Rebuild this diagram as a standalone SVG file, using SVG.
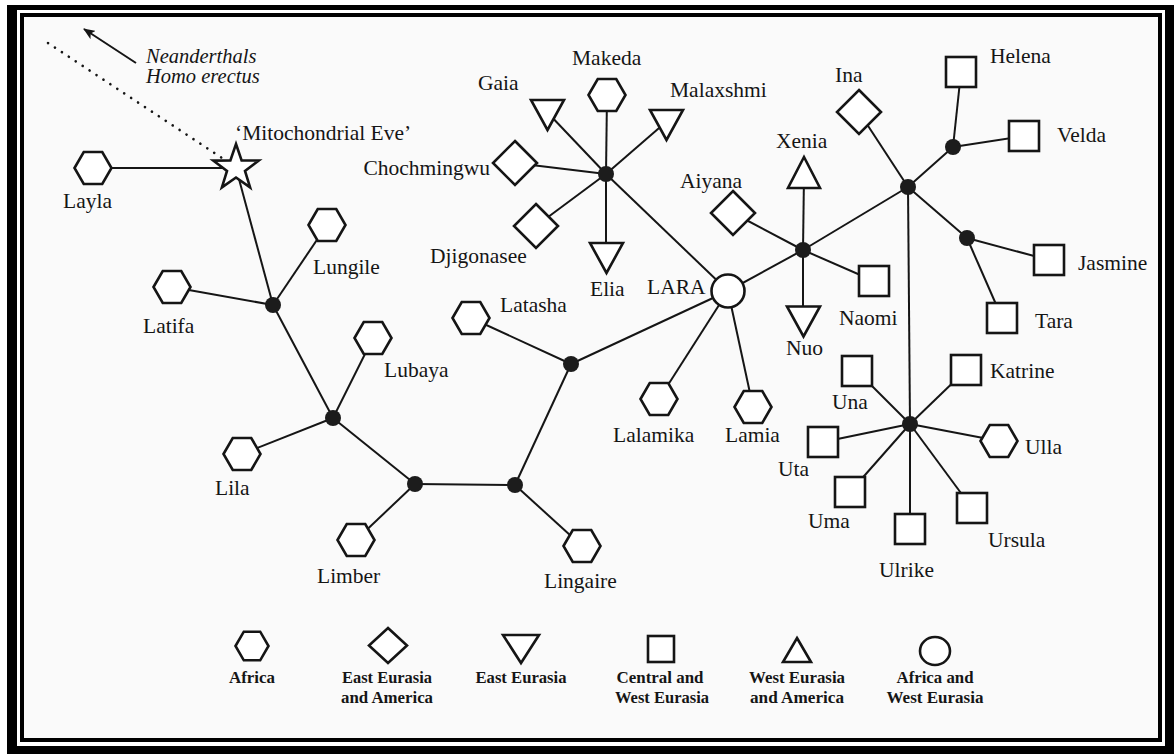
<svg xmlns="http://www.w3.org/2000/svg" width="1174" height="754" viewBox="0 0 1174 754">
<style>
.lbl{font-family:"Liberation Serif","Times New Roman",serif;font-size:21.5px;fill:#151515}
.it{font-family:"Liberation Serif","Times New Roman",serif;font-size:20.5px;font-style:italic;fill:#151515}
.lg{font-family:"Liberation Serif","Times New Roman",serif;font-size:16px;font-weight:bold;fill:#151515;text-anchor:middle}
.sh{fill:#fff;stroke:#151515;stroke-width:2.6;stroke-linejoin:miter}
.ln{stroke:#151515;stroke-width:2;fill:none}
.hub{fill:#1c1c1c}
</style>
<defs>
<polygon id="hex" points="-18.5,0 -9.25,-16 9.25,-16 18.5,0 9.25,16 -9.25,16"/>
<polygon id="dia" points="0,-22 22,0 0,22 -22,0"/>
<rect id="sq" x="-15" y="-15" width="30" height="30"/>
<polygon id="tdn" points="-16.5,-15 16.5,-15 0,15"/>
<polygon id="tup" points="0,-15.5 16,15.5 -16,15.5"/>
<marker id="ah" viewBox="0 0 12 10" refX="11" refY="5" markerWidth="12" markerHeight="10" markerUnits="userSpaceOnUse" orient="auto">
<path d="M0,0 L12,5 L0,10 L3,5 Z" fill="#151515"/>
</marker>
</defs>
<!-- frame -->
<rect x="7" y="5" width="1167" height="749" fill="#000"/>
<rect x="17" y="10" width="1148" height="736" fill="#fff"/>
<rect x="20" y="13" width="1142" height="729" fill="#000"/>
<rect x="24" y="17" width="1134" height="721" fill="#fafafa"/>

<g id="connectors">
<line class="ln" x1="136" y1="63" x2="84" y2="29" marker-end="url(#ah)"/>
<line x1="48" y1="43" x2="222" y2="158" stroke="#151515" stroke-width="2.6" stroke-linecap="round" stroke-dasharray="0.1 8.2"/>
<line class="ln" x1="93" y1="168" x2="236" y2="168"/>
<line class="ln" x1="236" y1="168" x2="273" y2="305"/>
<line class="ln" x1="273" y1="305" x2="172" y2="287"/>
<line class="ln" x1="273" y1="305" x2="327" y2="225"/>
<line class="ln" x1="273" y1="305" x2="333" y2="418"/>
<line class="ln" x1="333" y1="418" x2="373" y2="338"/>
<line class="ln" x1="333" y1="418" x2="242" y2="454"/>
<line class="ln" x1="333" y1="418" x2="415" y2="484"/>
<line class="ln" x1="415" y1="484" x2="356" y2="540"/>
<line class="ln" x1="415" y1="484" x2="515" y2="485"/>
<line class="ln" x1="515" y1="485" x2="582" y2="546"/>
<line class="ln" x1="515" y1="485" x2="571" y2="364"/>
<line class="ln" x1="571" y1="364" x2="471" y2="318"/>
<line class="ln" x1="571" y1="364" x2="728" y2="291"/>
<line class="ln" x1="728" y1="291" x2="659" y2="399"/>
<line class="ln" x1="728" y1="291" x2="753" y2="407"/>
<line class="ln" x1="728" y1="291" x2="606" y2="174"/>
<line class="ln" x1="728" y1="291" x2="803" y2="250"/>
<line class="ln" x1="606" y1="174" x2="607" y2="95"/>
<line class="ln" x1="606" y1="174" x2="547" y2="112"/>
<line class="ln" x1="606" y1="174" x2="666" y2="122"/>
<line class="ln" x1="606" y1="174" x2="515" y2="163"/>
<line class="ln" x1="606" y1="174" x2="536" y2="226"/>
<line class="ln" x1="606" y1="174" x2="606" y2="258"/>
<line class="ln" x1="803" y1="250" x2="733" y2="213"/>
<line class="ln" x1="803" y1="250" x2="804" y2="175"/>
<line class="ln" x1="803" y1="250" x2="874" y2="281"/>
<line class="ln" x1="803" y1="250" x2="803" y2="320"/>
<line class="ln" x1="803" y1="250" x2="908" y2="187"/>
<line class="ln" x1="908" y1="187" x2="859" y2="112"/>
<line class="ln" x1="908" y1="187" x2="953" y2="147"/>
<line class="ln" x1="908" y1="187" x2="967" y2="238"/>
<line class="ln" x1="908" y1="187" x2="910" y2="424"/>
<line class="ln" x1="953" y1="147" x2="961" y2="72"/>
<line class="ln" x1="953" y1="147" x2="1024" y2="136"/>
<line class="ln" x1="967" y1="238" x2="1049" y2="260"/>
<line class="ln" x1="967" y1="238" x2="1002" y2="318"/>
<line class="ln" x1="910" y1="424" x2="857" y2="371"/>
<line class="ln" x1="910" y1="424" x2="966" y2="370"/>
<line class="ln" x1="910" y1="424" x2="823" y2="442"/>
<line class="ln" x1="910" y1="424" x2="999" y2="441"/>
<line class="ln" x1="910" y1="424" x2="850" y2="492"/>
<line class="ln" x1="910" y1="424" x2="910" y2="529"/>
<line class="ln" x1="910" y1="424" x2="972" y2="508"/>
</g>

<g id="hubs">
<circle class="hub" cx="273" cy="305" r="8"/>
<circle class="hub" cx="333" cy="418" r="8"/>
<circle class="hub" cx="415" cy="484" r="8"/>
<circle class="hub" cx="515" cy="485" r="8"/>
<circle class="hub" cx="571" cy="364" r="8"/>
<circle class="hub" cx="606" cy="174" r="8"/>
<circle class="hub" cx="803" cy="250" r="8"/>
<circle class="hub" cx="908" cy="187" r="8"/>
<circle class="hub" cx="953" cy="147" r="8"/>
<circle class="hub" cx="967" cy="238" r="8"/>
<circle class="hub" cx="910" cy="424" r="8"/>
</g>

<g id="neanderthals"><text class="it" x="146" y="63">Neanderthals</text><text class="it" x="146" y="83">Homo erectus</text></g>
<g id="eve"><polygon class="sh" transform="translate(236,168)" points="0,-24 5.6,-7.6 22.8,-7.4 9,3 14.1,19.4 0,9.5 -14.1,19.4 -9,3 -22.8,-7.4 -5.6,-7.6"/><text class="lbl" x="235" y="140">‘Mitochondrial Eve’</text></g>
<g id="layla"><use href="#hex" class="sh" x="93" y="168"/><text class="lbl" x="63" y="208">Layla</text></g>
<g id="lungile"><use href="#hex" class="sh" x="327" y="225"/><text class="lbl" x="313" y="274">Lungile</text></g>
<g id="latifa"><use href="#hex" class="sh" x="172" y="287"/><text class="lbl" x="143" y="333">Latifa</text></g>
<g id="lubaya"><use href="#hex" class="sh" x="373" y="338"/><text class="lbl" x="384" y="377">Lubaya</text></g>
<g id="lila"><use href="#hex" class="sh" x="242" y="454"/><text class="lbl" x="215" y="495">Lila</text></g>
<g id="limber"><use href="#hex" class="sh" x="356" y="540"/><text class="lbl" x="317" y="583">Limber</text></g>
<g id="lingaire"><use href="#hex" class="sh" x="582" y="546"/><text class="lbl" x="544" y="588">Lingaire</text></g>
<g id="latasha"><use href="#hex" class="sh" x="471" y="318"/><text class="lbl" x="500" y="312">Latasha</text></g>
<g id="lara"><circle class="sh" cx="728" cy="291" r="16.5"/><text class="lbl" x="647" y="294">LARA</text></g>
<g id="lalamika"><use href="#hex" class="sh" x="659" y="399"/><text class="lbl" x="613" y="442">Lalamika</text></g>
<g id="lamia"><use href="#hex" class="sh" x="753" y="407"/><text class="lbl" x="725" y="442">Lamia</text></g>
<g id="makeda"><use href="#hex" class="sh" x="607" y="95"/><text class="lbl" x="572" y="65">Makeda</text></g>
<g id="gaia"><use href="#tdn" class="sh" x="547.5" y="115"/><text class="lbl" x="478" y="90">Gaia</text></g>
<g id="malaxshmi"><use href="#tdn" class="sh" x="666.5" y="125"/><text class="lbl" x="670" y="97">Malaxshmi</text></g>
<g id="chochmingwu"><use href="#dia" class="sh" x="515" y="163"/><text class="lbl" x="490" y="175" text-anchor="end">Chochmingwu</text></g>
<g id="djigonasee"><use href="#dia" class="sh" x="536" y="226"/><text class="lbl" x="430" y="263">Djigonasee</text></g>
<g id="elia"><use href="#tdn" class="sh" x="606.5" y="258"/><text class="lbl" x="590" y="296">Elia</text></g>
<g id="aiyana"><use href="#dia" class="sh" x="733" y="213"/><text class="lbl" x="680" y="188">Aiyana</text></g>
<g id="xenia"><use href="#tup" class="sh" x="804" y="172.5"/><text class="lbl" x="776" y="148">Xenia</text></g>
<g id="naomi"><use href="#sq" class="sh" x="874" y="281"/><text class="lbl" x="839" y="325">Naomi</text></g>
<g id="nuo"><use href="#tdn" class="sh" x="803.5" y="321.5"/><text class="lbl" x="786" y="355">Nuo</text></g>
<g id="ina"><use href="#dia" class="sh" x="859" y="112"/><text class="lbl" x="835" y="82">Ina</text></g>
<g id="helena"><use href="#sq" class="sh" x="961" y="72"/><text class="lbl" x="990" y="63">Helena</text></g>
<g id="velda"><use href="#sq" class="sh" x="1024" y="136"/><text class="lbl" x="1057" y="142">Velda</text></g>
<g id="jasmine"><use href="#sq" class="sh" x="1049" y="260"/><text class="lbl" x="1078" y="270">Jasmine</text></g>
<g id="tara"><use href="#sq" class="sh" x="1002" y="318"/><text class="lbl" x="1035" y="328">Tara</text></g>
<g id="una"><use href="#sq" class="sh" x="857" y="371"/><text class="lbl" x="832" y="409">Una</text></g>
<g id="katrine"><use href="#sq" class="sh" x="966" y="370"/><text class="lbl" x="990" y="378">Katrine</text></g>
<g id="uta"><use href="#sq" class="sh" x="823" y="442"/><text class="lbl" x="778" y="476">Uta</text></g>
<g id="ulla"><use href="#hex" class="sh" x="999" y="441"/><text class="lbl" x="1025" y="454">Ulla</text></g>
<g id="uma"><use href="#sq" class="sh" x="850" y="492"/><text class="lbl" x="808" y="528">Uma</text></g>
<g id="ulrike"><use href="#sq" class="sh" x="910" y="529"/><text class="lbl" x="879" y="577">Ulrike</text></g>
<g id="ursula"><use href="#sq" class="sh" x="972" y="508"/><text class="lbl" x="988" y="547">Ursula</text></g>

<g id="legend">
<polygon class="sh" stroke-width="2.4" points="235.5,646 243.8,631.7 260.2,631.7 268.5,646 260.2,660.3 243.8,660.3"/>
<text class="lg" x="252" y="683" textLength="46" lengthAdjust="spacingAndGlyphs">Africa</text>
<polygon class="sh" stroke-width="2.4" points="388,628 407,645.5 388,663 369,645.5"/>
<text class="lg" x="387" y="683" textLength="90" lengthAdjust="spacingAndGlyphs">East Eurasia</text>
<text class="lg" x="387" y="703" textLength="92" lengthAdjust="spacingAndGlyphs">and America</text>
<polygon class="sh" stroke-width="2.4" points="503,635 539,635 521,663"/>
<text class="lg" x="521" y="683" textLength="91" lengthAdjust="spacingAndGlyphs">East Eurasia</text>
<rect class="sh" stroke-width="2.4" x="648" y="636" width="26" height="26"/>
<text class="lg" x="660" y="683" textLength="87" lengthAdjust="spacingAndGlyphs">Central and</text>
<text class="lg" x="662" y="703" textLength="94" lengthAdjust="spacingAndGlyphs">West Eurasia</text>
<polygon class="sh" stroke-width="2.4" points="797,638 811,662 783,662"/>
<text class="lg" x="797" y="683" textLength="96" lengthAdjust="spacingAndGlyphs">West Eurasia</text>
<text class="lg" x="797" y="703" textLength="94" lengthAdjust="spacingAndGlyphs">and America</text>
<ellipse class="sh" stroke-width="2.4" cx="935" cy="651" rx="15" ry="14"/>
<text class="lg" x="935" y="683" textLength="77" lengthAdjust="spacingAndGlyphs">Africa and</text>
<text class="lg" x="935" y="703" textLength="97" lengthAdjust="spacingAndGlyphs">West Eurasia</text>
</g>
</svg>
